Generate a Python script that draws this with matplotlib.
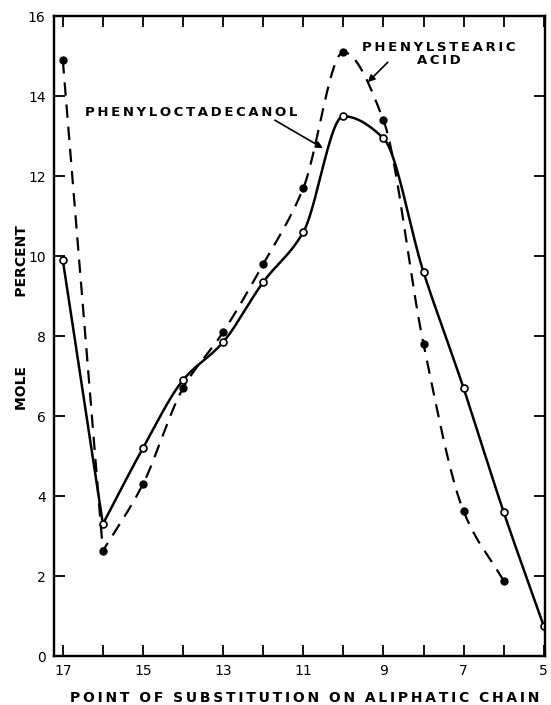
import numpy as np
import matplotlib
matplotlib.use('Agg')
import matplotlib.pyplot as plt

# point of substitution on the chain
pos = [17, 16, 15, 14, 13, 12, 11, 10, 9, 8, 7, 6, 5]
octadecanol = [9.9, 3.3, 5.2, 6.9, 7.85, 9.35, 10.6, 13.5, 12.95, 9.6, 6.7, 3.6, 0.75]
stearic_pos = [17, 16, 15, 14, 13, 12, 11, 10, 9, 8, 7, 6]
stearic = [14.9, 2.63, 4.3, 6.7, 8.1, 9.8, 11.7, 15.1, 13.4, 7.8, 3.62, 1.88]

ytick_vals = [0, 2, 4, 6, 8, 10, 12, 14, 16]
xtick_labelled = [17, 15, 13, 11, 9, 7, 5]

def sp(s):
    return '\u2009'.join(s)

def smooth(x, y, n=25):
    # monotone cubic (pchip) curve through the points, used only to draw the line
    x = np.asarray(x, float)[::-1]
    y = np.asarray(y, float)[::-1]
    h = np.diff(x)
    d = np.diff(y) / h
    m = np.zeros_like(y)
    for k in range(1, len(x) - 1):
        if d[k-1] * d[k] > 0:
            w1 = 2*h[k] + h[k-1]
            w2 = h[k] + 2*h[k-1]
            m[k] = (w1 + w2) / (w1/d[k-1] + w2/d[k])
    m[0] = d[0]
    m[-1] = d[-1]
    xs, ys = [], []
    for i in range(len(x) - 1):
        t = np.linspace(0, 1, n, endpoint=False)
        h00 = 2*t**3 - 3*t**2 + 1
        h10 = t**3 - 2*t**2 + t
        h01 = -2*t**3 + 3*t**2
        h11 = t**3 - t**2
        xs.append(x[i] + t*h[i])
        ys.append(h00*y[i] + h10*h[i]*m[i] + h01*y[i+1] + h11*h[i]*m[i+1])
    xs.append([x[-1]])
    ys.append([y[-1]])
    return np.concatenate(xs), np.concatenate(ys)

fig = plt.figure(figsize=(5.51, 7.05), dpi=100)
ax = fig.add_axes([0.098, 0.0695, 0.891, 0.9075])

# phenyloctadecanol: straight 17->16, smooth after
ax.plot(pos[:2], octadecanol[:2], color='black', lw=1.8)
sx, sy = smooth(pos[1:], octadecanol[1:])
ax.plot(sx, sy, color='black', lw=1.8)
ax.plot(pos, octadecanol, 'o', mfc='white', mec='black', ms=5, mew=1.2)

# phenylstearic acid
dash = (0, (6, 4))
ax.plot(stearic_pos[:2], stearic[:2], color='black', lw=1.6, ls=dash)
sx, sy = smooth(stearic_pos[1:], stearic[1:])
ax.plot(sx, sy, color='black', lw=1.6, ls=dash)
ax.plot(stearic_pos, stearic, 'o', color='black', ms=5)

ax.set_xlim(17.22, 4.97)
ax.set_ylim(0, 16)
ax.set_xticks(range(5, 18))
ax.set_xticklabels([str(v) if v in xtick_labelled else '' for v in range(5, 18)])
ax.set_yticks(ytick_vals)
ax.tick_params(direction='in', length=8, width=1.3, top=True, right=False,
               labelsize=10, pad=6)
ax2 = ax.twinx()
ax2.set_ylim(0, 16)
ax2.set_yticks(ytick_vals)
ax2.tick_params(direction='in', length=8, width=1.3, labelright=False)
for a in (ax, ax2):
    for s in a.spines.values():
        s.set_linewidth(1.6)

arrow = dict(arrowstyle='-|>', color='black', lw=1.2,
             shrinkA=0, shrinkB=0, mutation_scale=10)
ax.text(16.45, 13.6, sp('PHENYLOCTADECANOL'), ha='left', va='center',
        fontsize=9.5, fontweight='bold')
ax.annotate('', xy=(10.51, 12.7), xytext=(11.71, 13.4), arrowprops=arrow)
ax.text(7.62, 15.05, sp('PHENYLSTEARIC') + '\n' + sp('ACID'), ha='center',
        va='center', fontsize=9.5, fontweight='bold', linespacing=1.05)
ax.annotate('', xy=(9.39, 14.35), xytext=(8.89, 14.85), arrowprops=arrow)

fig.text(0.04, 0.55, 'MOLE' + '\u2003' * 5 + 'PERCENT', rotation=90,
         ha='center', va='center', fontsize=10, fontweight='bold')
fig.text(0.553, 0.0099, '  '.join(sp(w) for w in
         'POINT OF SUBSTITUTION ON ALIPHATIC CHAIN'.split()),
         ha='center', va='center', fontsize=10, fontweight='bold')

fig.savefig('out.png', dpi=100)
